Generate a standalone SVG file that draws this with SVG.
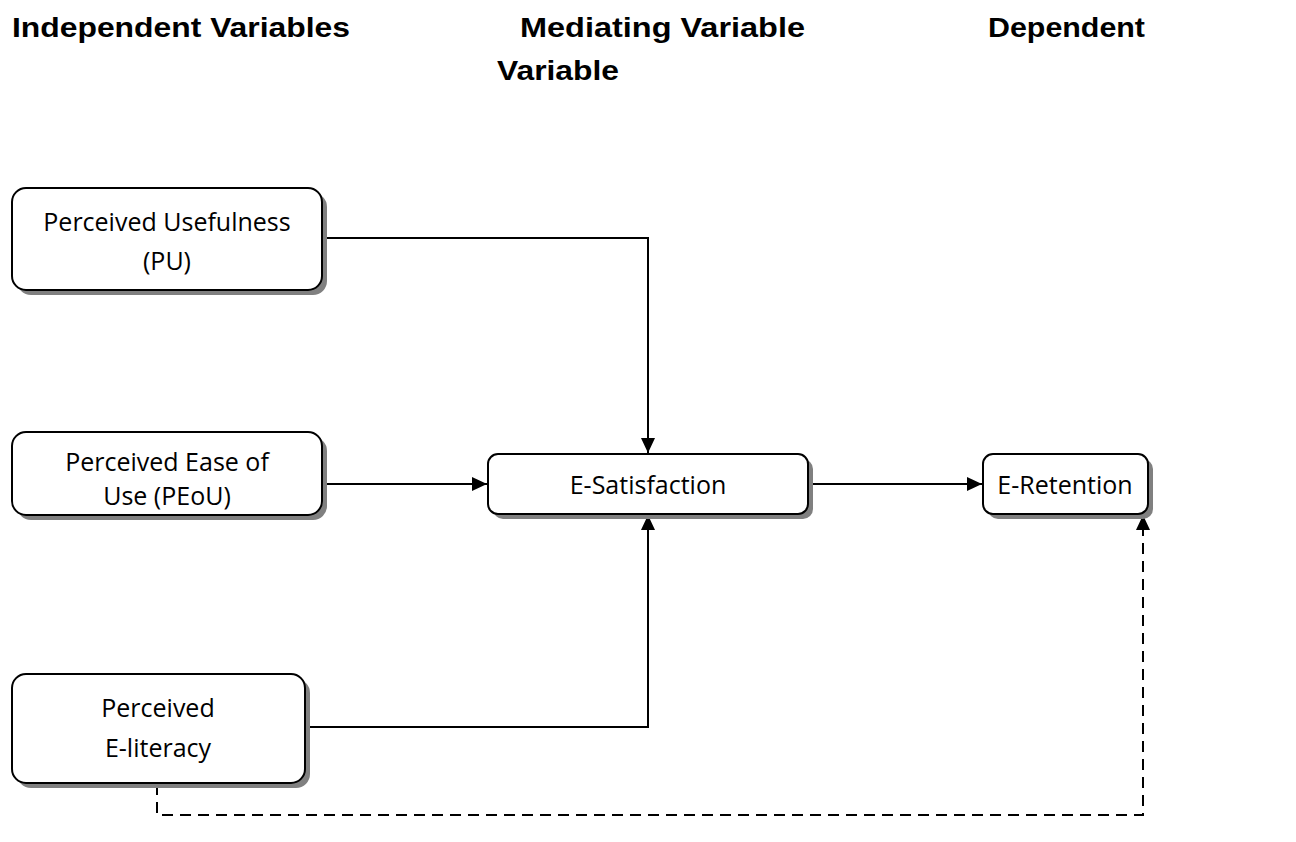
<svg xmlns="http://www.w3.org/2000/svg" width="1296" height="842" viewBox="0 0 1296 842">
<style>
.hdr{font-family:"Liberation Sans",Arial,sans-serif;font-weight:bold;font-size:28px;fill:#000}
.lbl{font-family:"Open Sans","Liberation Sans",sans-serif;font-size:25px;fill:#000;text-anchor:middle}
.box{fill:#fff;stroke:#000;stroke-width:2}
.shd{fill:#808080}
.ln{fill:none;stroke:#000;stroke-width:2}
.dash{fill:none;stroke:#000;stroke-width:2;stroke-dasharray:11,7}
</style>
<defs>
<marker id="ah" viewBox="0 0 15 14" refX="15" refY="7" markerWidth="15" markerHeight="14" markerUnits="userSpaceOnUse" orient="auto">
<path d="M0,0 L15,7 L0,14 Z" fill="#000"/>
</marker>
</defs>
<rect width="1296" height="842" fill="#fff"/>
<g id="headers">
<text class="hdr" x="12" y="37" textLength="338" lengthAdjust="spacingAndGlyphs">Independent Variables</text>
<text class="hdr" x="520" y="37" textLength="285" lengthAdjust="spacingAndGlyphs">Mediating Variable</text>
<text class="hdr" x="988" y="37" textLength="157" lengthAdjust="spacingAndGlyphs">Dependent</text>
<text class="hdr" x="497" y="80" textLength="122" lengthAdjust="spacingAndGlyphs">Variable</text>
</g>
<g id="connectors">
<path class="ln" d="M322,238 H648 V453" marker-end="url(#ah)"/>
<path class="ln" d="M322,484 H487" marker-end="url(#ah)"/>
<path class="ln" d="M305,727 H648 V515" marker-end="url(#ah)"/>
<path class="ln" d="M808,484 H982" marker-end="url(#ah)"/>
<path class="dash" d="M157,784 V815 H1143 V532"/>
<path class="ln" d="M1143,534 V515" marker-end="url(#ah)"/>
</g>
<g id="pu">
<rect class="shd" x="17" y="193" width="310" height="102" rx="14"/>
<rect class="box" x="12" y="188" width="310" height="102" rx="14"/>
<text class="lbl" x="167" y="231">Perceived Usefulness</text>
<text class="lbl" x="167" y="270">(PU)</text>
</g>
<g id="peou">
<rect class="shd" x="17" y="437" width="310" height="83" rx="14"/>
<rect class="box" x="12" y="432" width="310" height="83" rx="14"/>
<text class="lbl" x="167" y="471">Perceived Ease of</text>
<text class="lbl" x="167" y="505">Use (PEoU)</text>
</g>
<g id="pel">
<rect class="shd" x="17" y="679" width="293" height="109" rx="14"/>
<rect class="box" x="12" y="674" width="293" height="109" rx="14"/>
<text class="lbl" x="158" y="717">Perceived</text>
<text class="lbl" x="158" y="757">E-literacy</text>
</g>
<g id="esat">
<rect class="shd" x="493" y="459" width="320" height="60" rx="10"/>
<rect class="box" x="488" y="454" width="320" height="60" rx="10"/>
<text class="lbl" x="648" y="494">E-Satisfaction</text>
</g>
<g id="eret">
<rect class="shd" x="988" y="459" width="165" height="60" rx="10"/>
<rect class="box" x="983" y="454" width="165" height="60" rx="10"/>
<text class="lbl" x="1065" y="494">E-Retention</text>
</g>
</svg>
